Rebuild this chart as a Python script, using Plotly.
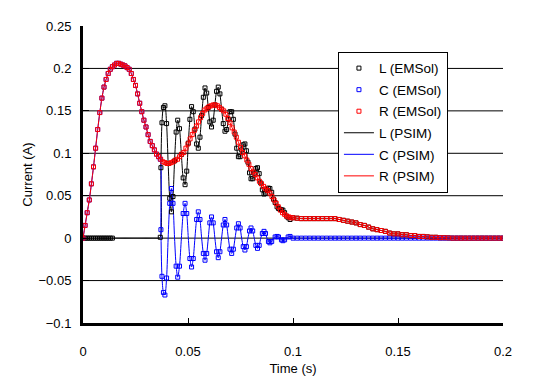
import plotly.graph_objects as go

# ---------------- data ----------------
# sample times in milliseconds
time_ms_fine = list(range(0, 101))          # 0 .. 100 ms, 1 ms step
time_ms_coarse = list(range(102, 201, 2))   # 102 .. 200 ms, 2 ms step

# R current (A)
r_fine = [0.000, 0.015, 0.030, 0.045, 0.064, 0.084, 0.106, 0.128, 0.148, 0.165,
          0.178, 0.187, 0.194, 0.199, 0.202, 0.204, 0.206, 0.206, 0.205, 0.204,
          0.203, 0.201, 0.199, 0.194, 0.187, 0.180, 0.170, 0.159, 0.149, 0.139,
          0.131, 0.122, 0.114, 0.109, 0.104, 0.099, 0.096, 0.093, 0.090, 0.089,
          0.088, 0.088, 0.089, 0.090, 0.092, 0.093, 0.096, 0.099, 0.101, 0.106,
          0.111, 0.117, 0.122, 0.127, 0.132, 0.137, 0.142, 0.147, 0.151, 0.153,
          0.155, 0.156, 0.157, 0.157, 0.156, 0.154, 0.152, 0.150, 0.146, 0.141,
          0.136, 0.130, 0.125, 0.119, 0.113, 0.107, 0.101, 0.097, 0.092, 0.087,
          0.082, 0.078, 0.075, 0.071, 0.067, 0.064, 0.061, 0.058, 0.056, 0.053,
          0.049, 0.045, 0.041, 0.037, 0.033, 0.030, 0.028, 0.026, 0.025, 0.024,
          0.024]
r_coarse = [0.0235, 0.023, 0.023, 0.023, 0.023, 0.023, 0.023, 0.023, 0.023, 0.023,
            0.022, 0.021, 0.020, 0.019, 0.018, 0.016, 0.015, 0.013, 0.011, 0.010,
            0.009, 0.008, 0.006, 0.005, 0.005, 0.004, 0.004, 0.003, 0.003, 0.002,
            0.002, 0.0015, 0.001, 0.001, 0.0005, 0.0005, 0.0003, 0.0,
            0.0, 0.0, 0.0, 0.0, 0.0, 0.0, 0.0, 0.0, 0.0, 0.0, 0.0, 0.0]

# oscillation after the switching instant (~36.8 ms)
osc_time_ms = [36.8, 37.1, 37.6, 38.3, 39.0, 39.8, 40.55, 41.3, 42.1, 42.85,
               43.6, 44.35, 45.1, 45.95, 46.85, 47.7, 48.6, 49.4, 50.15, 50.9,
               51.7, 52.5, 53.3, 54.1, 54.9, 55.7, 56.5, 57.3, 58.1, 58.9,
               59.65, 60.4, 61.2, 62.0, 62.8, 63.6, 64.4, 65.2, 66.0, 66.8,
               67.6, 68.4, 69.2, 70.0, 70.8, 71.6, 72.4, 73.2, 74.0, 74.8,
               75.55, 76.3, 77.1, 77.8, 78.55, 79.3, 80.0, 80.8, 81.55, 82.3,
               83.1, 83.9, 84.65, 85.4, 86.2, 86.9, 87.6, 88.3, 89.0, 89.85,
               90.7, 91.5, 92.4, 93.1, 93.8, 94.5, 95.2, 96.0, 96.9, 97.7,
               98.6]
c_osc = [0.093, 0.010, -0.045, -0.064, -0.067, -0.047, 0.0, 0.041, 0.0585, 0.041,
         0.0, -0.033, -0.046, -0.033, 0.0, 0.029, 0.041, 0.029, 0.0, -0.024,
         -0.034, -0.024, 0.0, 0.022, 0.031, 0.022, 0.0, -0.018, -0.026, -0.018,
         0.0, 0.018, 0.025, 0.018, 0.0, -0.016, -0.023, -0.016, 0.0, 0.0155,
         0.022, 0.0155, 0.0, -0.013, -0.018, -0.013, 0.0, 0.012, 0.017, 0.012,
         0.0, -0.010, -0.014, -0.010, 0.0, 0.0085, 0.012, 0.0085, 0.0, -0.0085,
         -0.012, -0.0085, 0.0, 0.0055, 0.008, 0.0055, 0.0, -0.004, -0.0055, -0.004,
         0.0, 0.0014, 0.002, 0.0014, 0.0, -0.002, -0.003, -0.002, 0.0, 0.0014,
         0.002]
l_osc = [0.001, 0.083, 0.136, 0.154, 0.156, 0.135, 0.088, 0.047, 0.031, 0.049,
         0.091, 0.125, 0.139, 0.129, 0.0985, 0.071, 0.063, 0.079, 0.112, 0.140,
         0.155, 0.149, 0.1285, 0.111, 0.106, 0.119, 0.1445, 0.166, 0.177, 0.171,
         0.154, 0.137, 0.131, 0.139, 0.157, 0.173, 0.178, 0.170, 0.152, 0.135,
         0.126, 0.128, 0.140, 0.149, 0.149, 0.140, 0.1226, 0.106, 0.096, 0.096,
         0.104, 0.110, 0.111, 0.103, 0.0895, 0.077, 0.070, 0.070, 0.0765, 0.082,
         0.083, 0.076, 0.065, 0.057, 0.052, 0.053, 0.0568, 0.059, 0.0585, 0.054,
         0.046, 0.042, 0.037, 0.035, 0.034, 0.0335, 0.033, 0.030, 0.026, 0.024,
         0.022]

# L is zero before switching (EMSol samples only shown up to 14 ms), C follows R before switching
l_before = [0.0] * 37
l_before_emsol = [0.0] * 15
c_after = [0.0] * 51

# ---------------- assemble series ----------------
t_R = [v / 1000 for v in time_ms_fine + time_ms_coarse]
R = r_fine + r_coarse

t_C = [v / 1000 for v in time_ms_fine[:37] + osc_time_ms + [100] + time_ms_coarse]
C = r_fine[:37] + c_osc + c_after

# EMSol samples of C: skip the exact zero-crossing points of the oscillation
c_em_pairs = [(t, v) for t, v in zip(osc_time_ms, c_osc) if v != 0.0]
t_C_em = [v / 1000 for v in time_ms_fine[:37]] + [t / 1000 for t, _ in c_em_pairs] \
    + [v / 1000 for v in [100] + time_ms_coarse]
C_em = r_fine[:37] + [v for _, v in c_em_pairs] + c_after

t_L = [v / 1000 for v in time_ms_fine[:37] + osc_time_ms + [100] + time_ms_coarse]
L = l_before + l_osc + [r_fine[100]] + r_coarse

t_L_em = [v / 1000 for v in time_ms_fine[:15] + osc_time_ms + [100] + time_ms_coarse]
L_em = l_before_emsol + l_osc + [r_fine[100]] + r_coarse

BLACK, BLUE, RED = "#000000", "#0000ff", "#ff0000"
FONT = "Liberation Sans"

fig = go.Figure()

def line_trace(x, y, name, color, rank):
    return go.Scatter(x=x, y=y, name=name, mode="lines",
                      line=dict(color=color, width=1, shape="spline", smoothing=0.8),
                      legendrank=rank, legendgroup=name)

def marker_trace(x, y, name, color, rank):
    return go.Scatter(x=x, y=y, name=name, mode="markers",
                      marker=dict(symbol="square-open", size=4, color=color,
                                  line=dict(width=1, color=color)),
                      legendrank=rank, legendgroup=name)

fig.add_trace(line_trace(t_L, L, "L (PSIM)", BLACK, 4))
fig.add_trace(line_trace(t_C, C, "C (PSIM)", BLUE, 5))
fig.add_trace(marker_trace(t_L_em, L_em, "L (EMSol)", BLACK, 1))
fig.add_trace(marker_trace(t_C_em, C_em, "C (EMSol)", BLUE, 2))
fig.add_trace(line_trace(t_R, R, "R (PSIM)", RED, 6))
fig.add_trace(marker_trace(t_R, R, "R (EMSol)", RED, 3))

y_grid = [0.2, 0.15, 0.1, 0.05, 0.0, -0.05]
for g in y_grid:
    fig.add_hline(y=g, line=dict(color=BLACK, width=1), layer="below")

# page body has an 8 px margin: figure is 531x384 so it fits the 539x392 window
fig.update_layout(
    width=531, height=384,
    margin=dict(l=75, r=36, t=18, b=69),
    paper_bgcolor="white", plot_bgcolor="white",
    font=dict(family=FONT, size=13, color=BLACK),
    showlegend=True,
    legend=dict(x=0.607, y=0.913, xanchor="left", yanchor="top",
                bgcolor="white", bordercolor=BLACK, borderwidth=1,
                font=dict(family=FONT, size=13.5, color=BLACK),
                tracegroupgap=1, itemwidth=30),
)
fig.update_xaxes(range=[0, 0.2], dtick=0.05, tick0=0, showgrid=False, zeroline=False,
                 showline=True, linecolor=BLACK, linewidth=3,
                 ticks="inside", ticklen=5, tickcolor=BLACK, tickwidth=1,
                 ticklabelstandoff=14, automargin=False,
                 title=dict(text="Time (s)", standoff=7, font=dict(size=13)))
fig.update_yaxes(range=[-0.1, 0.25], dtick=0.05, tick0=0, showgrid=False, zeroline=False,
                 showline=True, linecolor=BLACK, linewidth=3,
                 ticks="inside", ticklen=6, tickcolor=BLACK, tickwidth=1,
                 ticklabelstandoff=6, automargin=False,
                 title=dict(text="Current (A)", standoff=3, font=dict(size=13)))

fig.write_html("out.html")
